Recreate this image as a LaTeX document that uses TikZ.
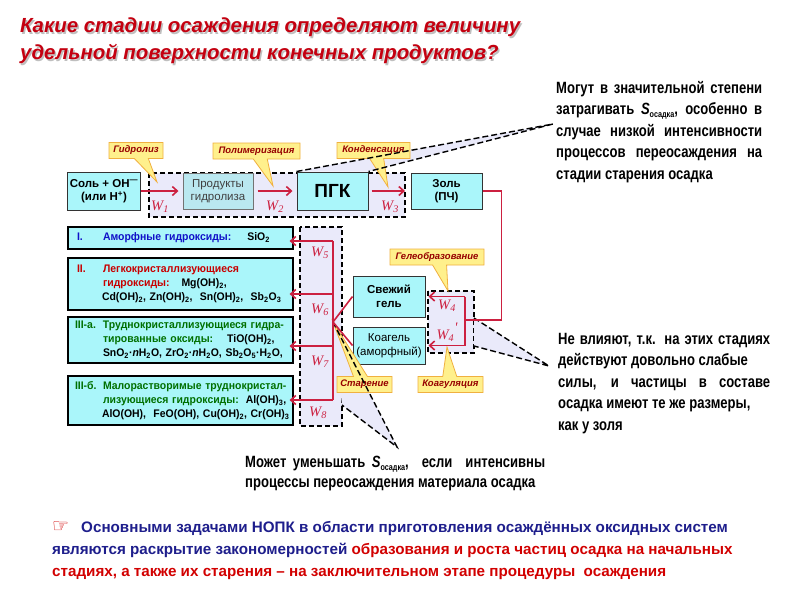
\documentclass[tikz,border=0pt]{standalone}
\usepackage{fontspec}
\setmainfont{Liberation Sans}
\newfontfamily\narrowfont[FakeStretch=0.8]{Liberation Sans}
\newfontfamily\clsfont[FakeStretch=0.95]{Liberation Sans}
\newfontfamily\wfont{Liberation Serif}
\newfontfamily\handfont{DejaVu Sans}
\usetikzlibrary{calc,positioning,arrows.meta,shapes.callouts}
\definecolor{boxcyan}{RGB}{170,246,250}
\definecolor{prodcyan}{RGB}{186,232,240}
\definecolor{lavender}{RGB}{234,234,250}
\definecolor{arrowred}{RGB}{204,32,64}
\definecolor{titlered}{RGB}{196,0,16}
\definecolor{callfill}{RGB}{255,240,140}
\definecolor{calledge}{RGB}{240,176,64}
\definecolor{calltext}{RGB}{150,0,0}
\definecolor{clsblue}{RGB}{16,16,200}
\definecolor{clsred}{RGB}{200,0,0}
\definecolor{clsgreen}{RGB}{0,112,0}
\definecolor{navy}{RGB}{30,30,140}
\definecolor{textred}{RGB}{210,0,0}
\newcommand\Sos{{\itshape S}\raisebox{-0.35ex}{\fontsize{9}{9}\selectfont осадка}} % S of the precipitate
\newcommand\sbs[1]{\textsubscript{#1}}
\newcommand\stagecall[5]{% name, centre, width, pointer, text
  \node[callbox,minimum width=#3,callout absolute pointer={(#4)}] (#1) at (#2) {#5};
}

\begin{document}
\begin{tikzpicture}[x=1pt,y=-1pt,
    box/.style={draw=black!80,line width=1pt,fill=boxcyan,align=center,inner sep=0pt,font=\bfseries\fontsize{11.5}{13.5}\selectfont},
    prodbox/.style={box,draw=black!55,fill=prodcyan,text=black!75,font=\fontsize{11.5}{13.5}\selectfont},
    clsbox/.style={draw=black,line width=1.2pt,fill=boxcyan,align=left,text width=219pt,inner xsep=3pt,inner ysep=0pt,font=\clsfont\bfseries\fontsize{11}{14}\selectfont},
    zone/.style={draw=black,fill=lavender,line width=1.4pt,dash pattern=on 5pt off 3pt},
    wedge/.style={draw=black,line width=1.4pt,dash pattern=on 6pt off 3pt},
    redline/.style={draw=arrowred,line width=1.6pt},
    redarrow/.style={redline,-{Straight Barb[length=5pt,width=9pt]}},
    wlabel/.style={text=arrowred,font=\wfont\itshape\fontsize{14.5}{14.5}\selectfont,inner sep=0pt},
    callbox/.style={rectangle callout,draw=calledge,fill=callfill,line width=0.8pt,text=calltext,font=\bfseries\itshape\fontsize{9.5}{11}\selectfont,minimum height=16pt,inner sep=1pt,callout pointer width=14pt},
    note/.style={font=\narrowfont\bfseries\fontsize{16.3}{21.5}\selectfont,inner sep=0pt,align=justify,anchor=north west}]
  \useasboundingbox (0,0) rectangle (800,600);
  \fill[white] (0,0) rectangle (800,600);
  % title
  \node[anchor=north west,align=left,inner sep=0pt,text=black!25,font=\bfseries\itshape\fontsize{20.4}{27}\selectfont] (titlesh) at (21.5,19.5) {Какие стадии осаждения определяют величину\\удельной поверхности конечных продуктов?};
  \node[anchor=north west,align=left,inner sep=0pt,text=titlered,font=\bfseries\itshape\fontsize{20.4}{27}\selectfont] (title) at (20,18) {Какие стадии осаждения определяют величину\\удельной поверхности конечных продуктов?};
  % dashed zones
  \draw[zone] (149,173) rectangle (405,217);
  \draw[zone] (300,227) rectangle (342,426);
  \draw[zone] (428,291) rectangle (474,353);
  % main chain
  \node[box,minimum width=73pt,minimum height=38pt] (salt) at (104,191) {Соль + OH\textsuperscript{—}\\(или H\textsuperscript{+})};
  \node[prodbox,minimum width=70pt,minimum height=36pt] (prod) at (218,191) {Продукты\\гидролиза};
  \node[box,minimum width=71pt,minimum height=38pt,font=\bfseries\fontsize{19}{21}\selectfont] (pgk) at (332.5,191) {ПГК};
  \node[box,minimum width=71pt,minimum height=36pt] (sol) at (446.5,191) {Золь\\(ПЧ)};
  % classes of hydroxides
  \node[clsbox,minimum height=22pt,text=clsblue] (cls1) at (180.5,238) {\makebox[32pt][l]{\hspace*{6pt}I.}Аморфные гидроксиды:\hspace{16pt}\textcolor{black}{SiO\sbs{2}}};
  \node[clsbox,minimum height=52pt,text=clsred] (cls2) at (180.5,284) {\makebox[32pt][l]{\hspace*{6pt}II.}Легкокристаллизующиеся\\
    \hspace*{32pt}гидроксиды:\hspace{12pt}\textcolor{black}{Mg(OH)\sbs{2},}\\
    \hspace*{31pt}\mbox{\textcolor{black}{Cd(OH)\sbs{2}, Zn(OH)\sbs{2},\ \ Sn(OH)\sbs{2},\ \ Sb\sbs{2}O\sbs{3}}}};
  \node[clsbox,minimum height=46pt,text=clsgreen] (cls3) at (180.5,340) {\makebox[32pt][l]{\hspace*{4pt}III-а.}\mbox{Труднокристаллизующиеся гидра-}\\
    \hspace*{32pt}тированные оксиды:\hspace{14pt}\textcolor{black}{TiO(OH)\sbs{2},}\\
    \hspace*{32pt}\mbox{\textcolor{black}{SnO\sbs{2}·\textit{n}H\sbs{2}O, ZrO\sbs{2}·\textit{n}H\sbs{2}O, Sb\sbs{2}O\sbs{5}·H\sbs{2}O,}}};
  \node[clsbox,minimum height=49pt,text=clsgreen] (cls4) at (180.5,400.5) {\makebox[32pt][l]{\hspace*{4pt}III-б.}\mbox{Малорастворимые труднокристал-}\\
    \hspace*{32pt}\mbox{лизующиеся гидроксиды:\hspace{7pt}\textcolor{black}{Al(OH)\sbs{3},}}\\
    \hspace*{31pt}\mbox{\textcolor{black}{AlO(OH),\ \ FeO(OH), Cu(OH)\sbs{2}, Cr(OH)\sbs{3}}}};
  % gel and coagel
  \node[box,minimum width=72pt,minimum height=41pt,font=\bfseries\fontsize{11.5}{14}\selectfont] (gel) at (389,296.5) {Свежий\\гель};
  \node[box,minimum width=72pt,minimum height=37pt,font=\fontsize{11.5}{14}\selectfont] (koag) at (389,345.5) {Коагель\\(аморфный)};
  % notes
  \node[note,text width=206pt] (note1) at (556,81) {Могут в значительной степени\linebreak затрагивать \Sos, особенно в\linebreak случае низкой интенсивности\linebreak процессов переосаждения на\linebreak стадии старения осадка};
  \node[note,text width=212pt] (note2) at (558,333) {Не влияют, т.к. на этих стадиях\linebreak действуют довольно слабые\\ силы, и частицы в составе\linebreak осадка имеют те же размеры,\\ как у золя};
  \node[note,text width=300pt,font=\narrowfont\bfseries\fontsize{16.3}{20}\selectfont] (note3) at (245,456) {Может уменьшать \Sos,\ \ если\ \ интенсивны\linebreak процессы переосаждения материала осадка};
  \node[anchor=north west,align=left,inner sep=0pt,font=\bfseries\fontsize{15.2}{22}\selectfont] (task) at (52,521)
    {{\handfont\fontsize{19}{19}\selectfont\color{textred}☞}\hspace{12pt}\textcolor{navy}{Основными задачами НОПК в области приготовления осаждённых оксидных систем}\\
     \textcolor{navy}{являются раскрытие закономерностей} \textcolor{textred}{образования и роста частиц осадка на начальных}\\
     \textcolor{textred}{стадиях, а также их старения – на заключительном этапе процедуры\ \ осаждения}};
  % pointers to the notes
  \coordinate (n1) at (553,124);
  \coordinate (n2) at (549,366);
  \coordinate (n3) at (397,447);
  \coordinate (jn) at (333,322);
  \fill[lavender] (pgk.north west) -- (n1) -- (pgk.north east) -- cycle;
  \fill[lavender] (474,318) -- (n2) -- (474,346) -- cycle;
  \fill[lavender] (jn) -- (n3) -- (342,405) -- cycle;
  % stage callouts
  \coordinate (phyd) at (157,182);
  \coordinate (ppol) at (273,186);
  \coordinate (pcon) at (388,187);
  \coordinate (pgel) at (448,291);
  \coordinate (pcoag) at (447,347);
  \stagecall{hyd}{136,150.5}{54pt}{phyd}{Гидролиз}
  \stagecall{pol}{256.5,151}{87pt}{ppol}{Полимеризация}
  \stagecall{con}{373.5,150.5}{73pt}{pcon}{Конденсация}
  \stagecall{gelc}{437,257}{94pt}{pgel}{Гелеобразование}
  \stagecall{coagc}{450.5,384.5}{65pt}{pcoag}{Коагуляция}
  \stagecall{agec}{364.5,384.5}{55pt}{jn}{Старение}
  \draw[wedge] (pgk.north west) -- (n1) -- (pgk.north east);
  \draw[wedge] (474,318) -- (n2) -- (474,346);
  \draw[wedge] (jn) -- (n3) -- (342,405);
  % red arrows of the chain
  \draw[redarrow,shorten >=4pt] (salt.east) -- (prod.west);
  \draw[redarrow,shorten <=4pt,shorten >=4pt] (prod.east) -- (pgk.west);
  \draw[redarrow,shorten <=3pt] (pgk.east) -- (405,191);
  \node[wlabel] (w1) at (160,207) {W\sbs{1}};
  \node[wlabel] (w2) at (275,207) {W\sbs{2}};
  \node[wlabel] (w3) at (390,207) {W\sbs{3}};
  % sol to gel and coagel
  \coordinate (b4) at (465,296.5);
  \coordinate (b4p) at (465,345.5);
  \draw[redline] (sol.east) -- ++(19,0) |- (465,320);
  \draw[redline] (b4) -- (b4p);
  \draw[redarrow,shorten >=3pt] (b4) -- (gel.east);
  \draw[redarrow,shorten >=3pt] (b4p) -- (koag.east);
  \node[wlabel] (w4) at (447,306) {W\sbs{4}};
  \node[wlabel] (w4p) at (447,332) {W\sbs{4}\raisebox{1.1ex}{'}};
  % ageing to the classes
  \draw[redline] (gel.west) -- (jn) -- (koag.west);
  \coordinate (c5) at (333,241);
  \coordinate (c6) at (333,294);
  \coordinate (c7) at (333,346);
  \coordinate (c8) at (333,400);
  \draw[redline] (c5) -- (c8);
  \foreach \c/\k in {c5/cls1,c6/cls2,c7/cls3,c8/cls4}
    \draw[redarrow,shorten >=-4pt] (\c) -- (\c -| \k.east);
  \node[wlabel] (w5) at (320,253) {W\sbs{5}};
  \node[wlabel] (w6) at (320,310) {W\sbs{6}};
  \node[wlabel] (w7) at (320,362) {W\sbs{7}};
  \node[wlabel] (w8) at (318,413) {W\sbs{8}};
\end{tikzpicture}
\end{document}
